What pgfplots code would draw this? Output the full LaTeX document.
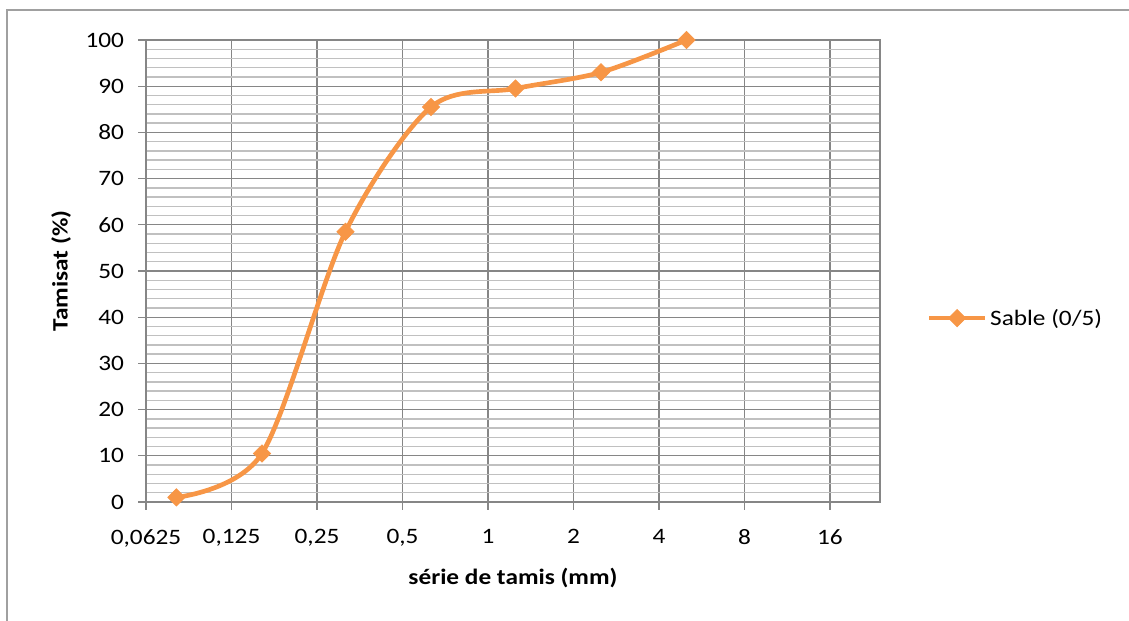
\documentclass[border=0pt]{standalone}
\usepackage{pgfplots}
\pgfplotsset{compat=1.18}
\usepackage{fontspec}
\setmainfont{Carlito}[FakeStretch=1.15]
\definecolor{sableorange}{RGB}{247,150,70}
\definecolor{majgrid}{RGB}{134,134,134}
\definecolor{mingrid}{RGB}{192,192,192}
\definecolor{framegray}{RGB}{160,160,160}

\begin{document}
\begin{tikzpicture}
\useasboundingbox (0pt,0pt) rectangle (846.75pt,465.75pt);
% light frame round the chart
\draw[framegray,line width=1.2pt] (5.25pt,0pt) -- (5.25pt,458.25pt) -- (846.75pt,458.25pt);
\begin{axis}[
    at={(109.5pt,89.25pt)}, anchor=south west,
    scale only axis,
    width=550.5pt, height=346.5pt,
    xmode=log, log basis x=2,
    xmin=0.0625, xmax=24,
    ymin=0, ymax=100,
    xtick={0.0625,0.125,0.25,0.5,1,2,4,8,16},
    xticklabels={{0,0625},{0,125},{0,25},{0,5},1,2,4,8,16},
    ytick={0,10,...,100},
    minor y tick num=4,
    axis line style={majgrid, line width=1pt},
    every tick/.style={majgrid, line width=1pt},
    tick align=outside,
    major tick length=6pt,
    minor tick length=0pt,
    xtick pos=bottom, ytick pos=left,
    grid=both,
    major grid style={majgrid,line width=1pt},
    minor grid style={mingrid,line width=1pt},
    ticklabel style={font=\fontsize{16.5}{19}\selectfont},
    /pgf/number format/assume math mode=true,
    xticklabel style={yshift=-11pt},
    yticklabel style={xshift=-7pt},
    xlabel={\bfseries série de tamis (mm)},
    ylabel={\bfseries Tamisat (\%)},
    label style={font=\fontsize{16.5}{19}\selectfont},
    xlabel style={yshift=-9pt},
    ylabel style={yshift=4pt},
    legend style={at={(1.058,0.398)}, anchor=west, draw=none, fill=none,
        font=\fontsize{16.5}{19}\selectfont},
    legend cell align=left,
    legend image code/.code={
        \draw[#1, line width=3.5pt] (0pt,0pt) -- (42pt,0pt);
        \draw[#1, mark repeat=2, mark phase=2] plot coordinates {(0pt,0pt) (21pt,0pt) (42pt,0pt)};
    },
]
\addplot[sableorange, line width=3.5pt, smooth, tension=0.5,
    mark=square*, mark size=4.6pt,
    mark options={rotate=45, solid, line width=0.5pt, fill=sableorange}]
    coordinates {
    (0.08,1)
    (0.16,10.5)
    (0.315,58.5)
    (0.63,85.5)
    (1.25,89.5)
    (2.5,93)
    (5,100)
};
\addlegendentry{Sable (0/5)}
\end{axis}
\end{tikzpicture}
\end{document}
